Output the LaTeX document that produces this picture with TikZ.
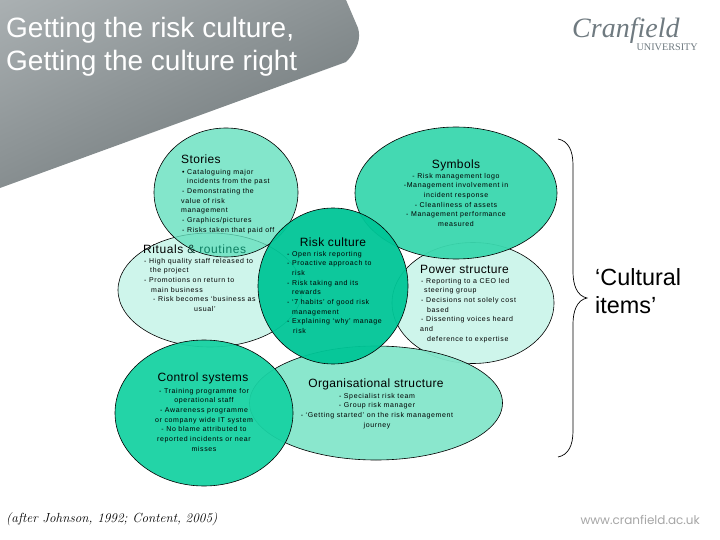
\documentclass[tikz,border=0pt]{standalone}
\usepackage{fontspec}
\usetikzlibrary{shapes.geometric}
\setmainfont{Liberation Sans}
\newfontfamily\bodyf[LetterSpace=9]{Liberation Sans}
\newfontfamily\headf[LetterSpace=3]{Liberation Sans}
\newfontfamily\headw[LetterSpace=5]{Liberation Sans}
\newfontfamily\logof{Liberation Serif}
\newfontfamily\webf{Poppins}
\definecolor{pale}{HTML}{CCF5EA}
\definecolor{mid}{HTML}{84E6CB}
\definecolor{midclear}{HTML}{65E0BE}
\definecolor{sym}{HTML}{3AD8AE}
\definecolor{ctl}{HTML}{18D2A3}
\definecolor{core}{HTML}{00C697}
\definecolor{slate}{HTML}{6F7A80}
\definecolor{panela}{HTML}{AEB4B6}
\definecolor{panelb}{HTML}{6C7476}
\definecolor{inkgreen}{HTML}{0E7F63}
\tikzset{
  x=1pt,y=-1pt,
  blob/.style n args={3}{ellipse,draw=black,line width=.6pt,inner sep=0pt,minimum width=#1pt,minimum height=#2pt,fill=#3,fill opacity=.95,draw opacity=1},
  head/.style={inner sep=0pt,font=\headf\fontsize{12}{12}\selectfont},
  bodyc/.style={inner sep=0pt,anchor=north,align=center,font=\bodyf\fontsize{7}{9.65}\selectfont},
  bodyl/.style={inner sep=0pt,anchor=north west,align=left,font=\bodyf\fontsize{7}{9.65}\selectfont},
}
\newcommand{\ind}[1]{\hspace*{#1pt}}
\begin{document}
\begin{tikzpicture}
\useasboundingbox (0,0) rectangle (720,540);
\fill[white] (0,0) rectangle (720,540);
% title panel
\begin{scope}
\clip (0,0) -- (346,0) -- (358,28) .. controls (361,38) and (358,50) .. (346,62) -- (0,188) -- cycle;
\shade[top color=panela,bottom color=panelb,shading angle=25] (-40,-60) rectangle (400,200);
\end{scope}
\node[inner sep=0pt,anchor=west,align=left,text=white,font=\fontsize{28}{33}\selectfont] (title) at (6,47) {Getting the risk culture,\\Getting the culture right};
% logo
\node[inner sep=0pt,anchor=west,text=slate,font=\logof\itshape\fontsize{28}{28}\selectfont] (logo) at (572,31) {Cranfield};
\node[inner sep=0pt,anchor=east,text=slate,font=\logof\fontsize{10.2}{10.2}\selectfont] (univ) at (698,47.5) {UNIVERSITY};
% ellipses, back row
\node[blob={184}{114}{pale}] (erit) at (210,290) {};
\node[blob={162}{121}{pale}] (epow) at (473,303) {};
\node[blob={253}{114}{mid}] (eorg) at (376,403) {};
% ellipses, front row
\node[blob={144}{129}{midclear},fill opacity=.8] (esto) at (226,192.5) {};
\node[blob={202}{132}{sym}] (esym) at (456,193) {};
\node[blob={178}{146}{ctl}] (ectl) at (204,413) {};
\node[blob={150}{156}{core}] (erisk) at (333,286) {};
% headings
\node[inner sep=0pt,anchor=west,font=\headw\fontsize{12}{12}\selectfont] (hrit) at (143,249) {Rituals \textcolor{black!60!inkgreen}{\&} \textcolor{inkgreen}{routines}};
\node[head,anchor=west] (hsto) at (181,159) {Stories};
\node[head] (hsym) at (456,165) {Symbols};
\node[head] (hrisk) at (333,242) {Risk culture};
\node[head,anchor=west] (hpow) at (420,269) {Power structure};
\node[head] (hctl) at (203,378) {Control systems};
\node[head] (horg) at (376,384) {Organisational structure};
% body text
\node[bodyl] (tsto) at (181,169) {\ind{1}• Cataloguing major\\\ind{6}incidents from the past\\\ind{1}- Demonstrating the\\value of risk\\management\\\ind{1}- Graphics/pictures\\\ind{1}- Risks taken that paid off};
\node[bodyl] (trit) at (144,258) {- High quality staff released to\\\ind{6}the project\\- Promotions on return to\\\ind{7}main business\\\ind{9}- Risk becomes ‘business as\\\ind{50}usual’};
\node[bodyc] (tsym) at (456,173) {- Risk management logo\\-Management involvement in\\incident response\\- Cleanliness of assets\\- Management performance\\measured};
\node[bodyl] (trisk) at (287,251) {- Open risk reporting\\- Proactive approach to\\\ind{5}risk\\- Risk taking and its\\\ind{5}rewards\\- ‘7 habits’ of good risk\\\ind{5}management\\- Explaining ‘why’ manage\\\ind{6}risk};
\node[bodyl] (tpow) at (420,278) {\ind{1}- Reporting to a CEO led\\\ind{4}steering group\\\ind{1}- Decisions not solely cost\\\ind{7}based\\\ind{1}- Dissenting voices heard\\and\\\ind{7}deference to expertise};
\node[bodyc] (tctl) at (204,388) {- Training programme for\\operational staff\\- Awareness programme\\or company wide IT system\\- No blame attributed to\\reported incidents or near\\misses};
\node[bodyc] (torg) at (377,393) {- Specialist risk team\\- Group risk manager\\- ‘Getting started’ on the risk management\\journey};
% brace
\coordinate (btop) at (558,139);
\coordinate (btip) at (587,298);
\coordinate (bbot) at (558,457);
\draw[line width=.7pt,black] (btop) .. controls (568,141) and (573,150) .. (573,165) -- (573,272) .. controls (573,285) and (577,296) .. (btip) .. controls (577,300) and (573,311) .. (573,324) -- (573,431) .. controls (573,446) and (568,455) .. (bbot);
\node[inner sep=0pt,anchor=west,align=left,font=\fontsize{23.4}{28}\selectfont] (items) at (595,291) {‘Cultural\\items’};
% footer
\node[inner sep=0pt,anchor=west,font=\fontfamily{lmr}\itshape\fontsize{13.2}{13.2}\selectfont] (cite) at (6,519) {(after Johnson, 1992; Content, 2005)};
\node[inner sep=0pt,anchor=east,text=black!35,font=\webf\fontsize{12}{12}\selectfont] (web) at (700,520) {www.cranfield.ac.uk};
\end{tikzpicture}
\end{document}
